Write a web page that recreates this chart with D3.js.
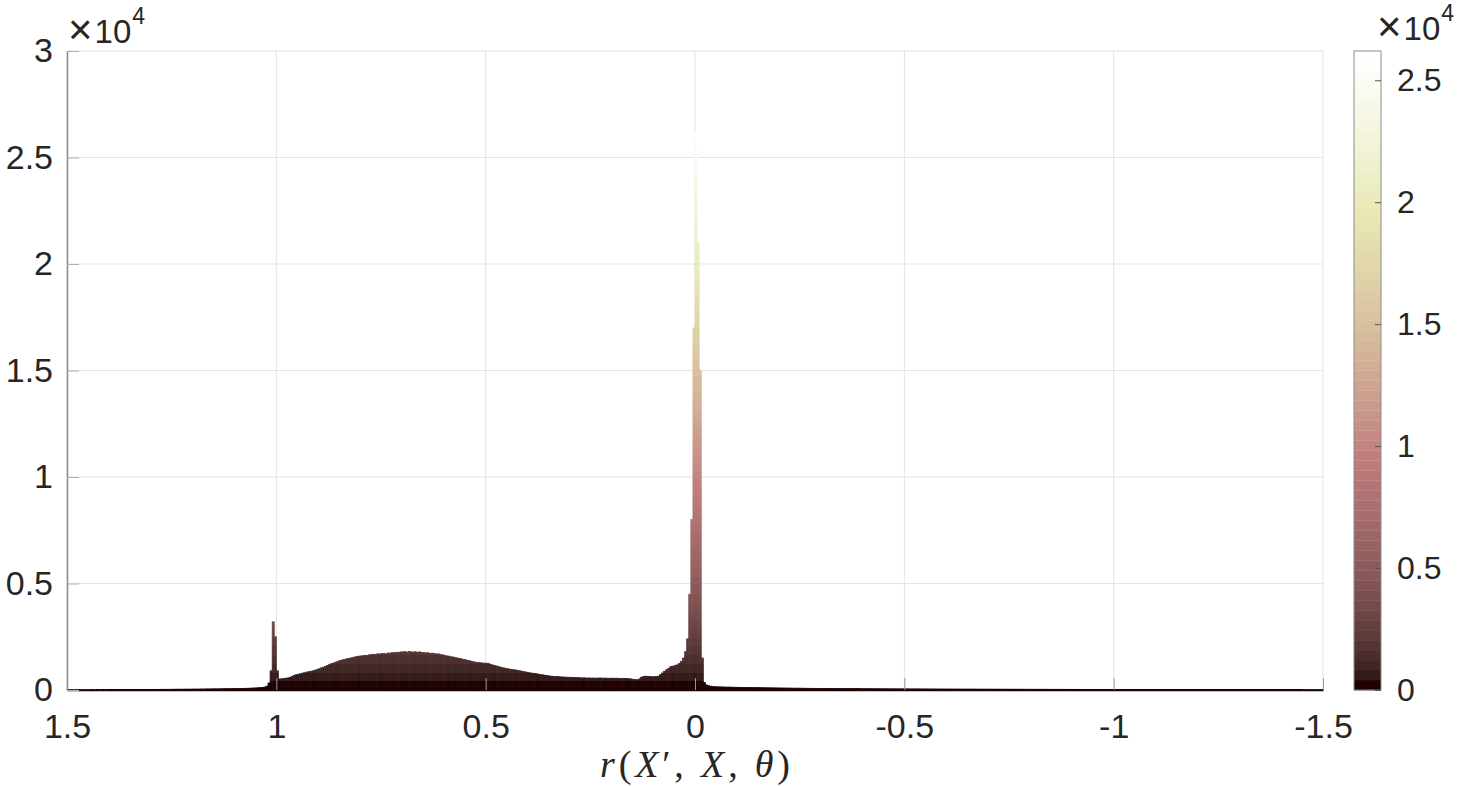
<!DOCTYPE html>
<html>
<head>
<meta charset="utf-8">
<script src="https://cdn.jsdelivr.net/npm/d3@7"></script>
<style>
	body { margin: 0; background: #fff; }
	text { font-family: 'Liberation Sans', Arial, Helvetica, sans-serif; fill: #262626; }
</style>
</head>
<body>
<div id="chart"></div>
<script>
// histogram of r(X', X, theta), bins of 0.005 running from r = 1.5 down to r = -1.5
const binWidth = 0.005;
const rStart = 1.5;

const leftTail = [
	12, 10, 14, 11, 13, 15, 12, 14, 16, 13, 15, 17, 14, 16, 18, 15, 17, 19, 16, 18,
	20, 18, 21, 19, 22, 24, 21, 23, 25, 22, 24, 26, 23, 27, 25, 28, 26, 29, 27, 30,
	31, 29, 32, 30, 34, 32, 35, 33, 36, 34, 38, 36, 39, 37, 41, 39, 42, 40, 44, 42,
	45, 43, 47, 46, 49, 47, 51, 50, 53, 52, 56, 54, 58, 57, 61, 60, 64, 63, 67, 66,
	70, 72, 74, 76, 79, 81, 84, 87, 91, 95, 100, 106, 113, 122, 140, 180
];
const peakOne = [ 330, 900, 3200, 2500, 900, 520 ];
const hump = [
	520, 540, 555, 565, 590, 640, 690, 720,
	740, 760, 790, 810, 840, 860, 880, 900, 930, 960,
	1000, 1040, 1070, 1110, 1150, 1200, 1240, 1270, 1310, 1350,
	1390, 1410, 1430, 1460, 1480, 1500, 1520, 1550, 1570, 1590,
	1600, 1610, 1630, 1620, 1650, 1660, 1680, 1670, 1700, 1690,
	1710, 1720, 1700, 1740, 1730, 1760, 1750, 1770, 1760, 1790,
	1790, 1800, 1780, 1810, 1790, 1780, 1800, 1770, 1790, 1760,
	1760, 1740, 1750, 1720, 1730, 1720, 1690, 1700, 1660, 1650,
	1620, 1600, 1590, 1560, 1550, 1520, 1500, 1490, 1460, 1440,
	1420, 1390, 1370, 1340, 1320, 1300, 1290, 1280, 1270, 1260,
	1260, 1240, 1200, 1170, 1140, 1120, 1090, 1060, 1040, 1020,
	1000, 980, 970, 950, 940, 920, 900, 880, 860, 840,
	820, 800, 790, 770, 760, 740, 720, 710, 690, 680,
	660, 650, 640, 630, 630, 620, 610, 610, 600, 600,
	600, 590, 590, 580, 580, 570, 570, 570, 560, 565,
	560, 560, 555, 560, 565, 560, 555, 560, 550, 555,
	555, 550, 555, 550, 545, 550, 545, 540, 530, 520,
	500, 490, 480, 520, 600, 640, 650, 640, 630, 625,
	620, 630, 650, 720, 800, 880, 950, 1020, 1100, 1120,
	1150, 1180, 1250, 1350, 1500
];
const peakZero = [ 1800, 2400, 4500, 8000, 17000, 26200, 21000, 15000, 1500, 350 ];
const rightTail = [
	240, 200, 180, 165, 155, 150, 148, 145, 142, 140, 138, 136, 134, 132, 130, 128, 126, 124, 122, 120,
	118, 116, 115, 113, 112, 110, 109, 107, 106, 104, 103, 101, 100, 99, 97, 96, 95, 94, 92, 91,
	90, 89, 88, 87, 86, 85, 84, 83, 82, 81, 80, 79, 79, 78, 77, 76, 75, 75, 74, 73,
	72, 72, 71, 70, 70, 69, 68, 68, 67, 66, 66, 65, 65, 64, 63, 63, 62, 62, 61, 61,
	60, 60, 59, 59, 58, 58, 57, 57, 56, 56, 55, 55, 55, 54, 54, 53, 53, 53, 52, 52,
	51, 51, 51, 50, 50, 50, 49, 49, 49, 48, 48, 48, 47, 47, 47, 46, 46, 46, 45, 45,
	45, 45, 44, 44, 44, 43, 43, 43, 43, 42, 42, 42, 42, 41, 41, 41, 41, 40, 40, 40,
	40, 39, 39, 39, 39, 38, 38, 38, 38, 38, 37, 37, 37, 37, 36, 36, 36, 36, 36, 35,
	35, 35, 35, 35, 34, 34, 34, 34, 34, 33, 33, 33, 33, 33, 32, 32, 32, 32, 32, 31,
	31, 31, 31, 31, 31, 30, 30, 30, 30, 30, 30, 29, 29, 29, 29, 29, 29, 28, 28, 28,
	28, 28, 28, 27, 27, 27, 27, 27, 27, 27, 26, 26, 26, 26, 26, 26, 26, 25, 25, 25,
	25, 25, 25, 25, 24, 24, 24, 24, 24, 24, 24, 23, 23, 23, 23, 23, 23, 23, 22, 22,
	22, 22, 22, 22, 22, 22, 21, 21, 21, 21, 21, 21, 21, 20, 20, 20, 20, 20, 20, 20,
	20, 19, 19, 19, 19, 19, 19, 19, 19, 18, 18, 18, 18, 18, 18, 18, 18, 17, 17, 17,
	17, 17, 17, 17, 17, 16, 16, 16, 16, 16, 16, 16, 15, 15, 15
];

const xTicks = [ 1.5, 1, 0.5, 0, -0.5, -1, -1.5 ];
const xTickLabels = [ '1.5', '1', '0.5', '0', '-0.5', '-1', '-1.5' ];
const yTicks = [ 0, 5000, 10000, 15000, 20000, 25000, 30000 ];
const yTickLabels = [ '0', '0.5', '1', '1.5', '2', '2.5', '3' ];
const cbTicks = [ 0, 5000, 10000, 15000, 20000, 25000 ];
const cbTickLabels = [ '0', '0.5', '1', '1.5', '2', '2.5' ];

const counts = leftTail.concat(peakOne, hump, peakZero, rightTail);
const bins = counts.map(function(c, i) {
	return { hi: rStart - i * binWidth, lo: rStart - (i + 1) * binWidth, count: c };
});

let dimensions = {
	width  : 1461,
	height : 786,
	margin : {
		top    : 51,
		right  : 138,
		bottom : 96,
		left   : 67
	}
};
dimensions.boundedWidth = dimensions.width - dimensions.margin.left - dimensions.margin.right;
dimensions.boundedHeight = dimensions.height - dimensions.margin.top - dimensions.margin.bottom;

// MATLAB 'pink' colormap, 64 levels
function pinkMap(m) {
	const n = Math.floor(3 / 8 * m);
	const out = [];
	for (let i = 0; i < m; i++) {
		const gray = i / (m - 1);
		const hr = i < n ? (i + 1) / n : 1;
		const hg = i < n ? 0 : i < 2 * n ? (i - n + 1) / n : 1;
		const hb = i < 2 * n ? 0 : (i - 2 * n + 1) / (m - 2 * n);
		const f = function(h) { return Math.round(255 * Math.sqrt((2 * gray + h) / 3)); };
		out.push(d3.rgb(f(hr), f(hg), f(hb)).formatHex());
	}
	return out;
}
const cmap = pinkMap(64);
const cmax = d3.max(counts);

const svg = d3.select('#chart').append('svg').attr('width', dimensions.width).attr('height', dimensions.height);
const bounds = svg.append('g').attr('transform', `translate(${dimensions.margin.left}, ${dimensions.margin.top})`);

const x = d3.scaleLinear().domain([ 1.5, -1.5 ]).range([ 0, dimensions.boundedWidth ]);
const y = d3.scaleLinear().domain([ 0, 30000 ]).range([ dimensions.boundedHeight, 0 ]);

// stepped gradient: colour follows bar height
const defs = svg.append('defs');
const grad = defs
	.append('linearGradient')
	.attr('id', 'heightGrad')
	.attr('gradientUnits', 'userSpaceOnUse')
	.attr('x1', 0)
	.attr('x2', 0)
	.attr('y1', y(0))
	.attr('y2', y(cmax));
cmap.forEach(function(c, k) {
	grad.append('stop').attr('offset', k / 64).attr('stop-color', c);
	grad.append('stop').attr('offset', (k + 1) / 64).attr('stop-color', c);
});

// grid
const gridColor = '#e3e3e3';
bounds
	.append('g')
	.selectAll('line')
	.data(yTicks)
	.enter()
	.append('line')
	.attr('x1', 0)
	.attr('x2', dimensions.boundedWidth)
	.attr('y1', (d) => y(d))
	.attr('y2', (d) => y(d))
	.attr('stroke', gridColor);
bounds
	.append('g')
	.selectAll('line')
	.data(xTicks)
	.enter()
	.append('line')
	.attr('x1', (d) => x(d))
	.attr('x2', (d) => x(d))
	.attr('y1', 0)
	.attr('y2', dimensions.boundedHeight)
	.attr('stroke', gridColor);

// bars (thin stroke in the same gradient closes the hairline seams)
bounds
	.append('g')
	.selectAll('rect')
	.data(bins)
	.enter()
	.append('rect')
	.attr('x', (d) => x(d.hi))
	.attr('width', (d) => x(d.lo) - x(d.hi))
	.attr('y', (d) => y(d.count))
	.attr('height', (d) => y(0) - y(d.count))
	.attr('fill', 'url(#heightGrad)')
	.attr('stroke', 'url(#heightGrad)')
	.attr('stroke-width', 0.7);

// axes
const xAxisGenerator = d3
	.axisBottom(x)
	.tickValues(xTicks)
	.tickFormat((d, i) => xTickLabels[i])
	.tickSizeInner(-12)
	.tickSizeOuter(0)
	.tickPadding(24);
const xAxis = bounds.append('g').attr('transform', `translate(0, ${dimensions.boundedHeight})`).call(xAxisGenerator);
xAxis.select('.domain').attr('stroke', '#1a0606').attr('stroke-width', 1.5);
xAxis.selectAll('.tick line').attr('stroke', '#9a9a9a');
xAxis.selectAll('text').attr('font-size', 34).attr('fill', '#262626').attr('font-family', 'Liberation Sans, Arial, sans-serif');

const yAxisGenerator = d3
	.axisLeft(y)
	.tickValues(yTicks)
	.tickFormat((d, i) => yTickLabels[i])
	.tickSizeInner(-12)
	.tickSizeOuter(0)
	.tickPadding(14);
const yAxis = bounds.append('g').call(yAxisGenerator);
yAxis.select('.domain').attr('stroke', '#8c8c8c').attr('stroke-width', 1.5);
yAxis.selectAll('.tick line').attr('stroke', '#b0b0b0');
yAxis.selectAll('text').attr('font-size', 34).attr('fill', '#262626').attr('font-family', 'Liberation Sans, Arial, sans-serif');

// exponent labels
function exponent(g, px, py) {
	const t = g.append('text').attr('x', px).attr('y', py).attr('font-size', 33);
	t.append('tspan').attr('font-size', 42).attr('font-weight', 300).attr('dy', 1).text('×');
	t.append('tspan').attr('dx', 2).attr('dy', -1).text('10');
	t.append('tspan').attr('dy', -19).attr('dx', 1).attr('font-size', 23).text('4');
}
exponent(svg, 68, 43);
exponent(svg, 1377, 40);

// x label
const xl = svg
	.append('text')
	.attr('x', dimensions.margin.left + x(0))
	.attr('y', 777)
	.attr('text-anchor', 'middle')
	.attr('font-size', 38)
	.attr('textLength', 190)
	.attr('lengthAdjust', 'spacing')
	.style('font-family', 'Liberation Serif, Times New Roman, serif');
xl.append('tspan').attr('font-style', 'italic').text('r');
xl.append('tspan').text('(');
xl.append('tspan').attr('font-style', 'italic').text('X');
xl.append('tspan').text('′, ');
xl.append('tspan').attr('font-style', 'italic').text('X');
xl.append('tspan').text(', ');
xl.append('tspan').attr('font-style', 'italic').text('θ');
xl.append('tspan').text(')');

// colorbar
const cb = svg.append('g').attr('transform', `translate(1354, ${dimensions.margin.top})`);
const cbWidth = 27;
const cy = d3.scaleLinear().domain([ 0, cmax ]).range([ dimensions.boundedHeight, 0 ]);
cb
	.selectAll('rect')
	.data(cmap)
	.enter()
	.append('rect')
	.attr('x', 0)
	.attr('width', cbWidth)
	.attr('y', (d, k) => cy((k + 1) * cmax / 64))
	.attr('height', (d, k) => cy(k * cmax / 64) - cy((k + 1) * cmax / 64) + 0.3)
	.attr('fill', (d) => d);
cb
	.append('rect')
	.attr('width', cbWidth)
	.attr('height', dimensions.boundedHeight)
	.attr('fill', 'none')
	.attr('stroke', '#8c8c8c');
const cbAxisGenerator = d3
	.axisRight(cy)
	.tickValues(cbTicks)
	.tickFormat((d, i) => cbTickLabels[i])
	.tickSizeInner(-6)
	.tickSizeOuter(0)
	.tickPadding(16);
const cbAxis = cb.append('g').attr('transform', `translate(${cbWidth}, 0)`).call(cbAxisGenerator);
cbAxis.select('.domain').remove();
cbAxis.selectAll('.tick line').attr('stroke', '#555');
cbAxis.selectAll('text').attr('font-size', 32).attr('fill', '#262626').attr('font-family', 'Liberation Sans, Arial, sans-serif');
</script>
</body>
</html>
